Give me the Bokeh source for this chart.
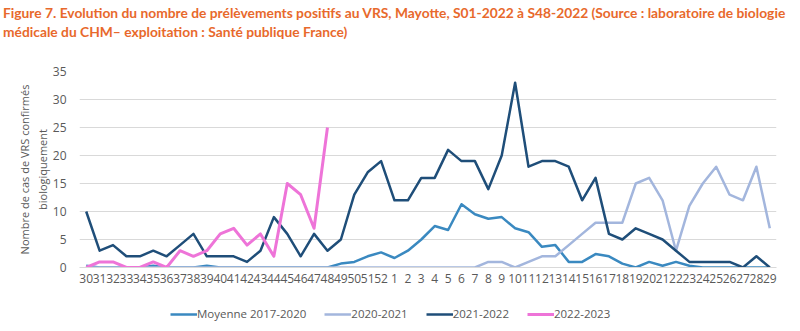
from bokeh.plotting import figure
from bokeh.models import Div, Legend, LegendItem, FixedTicker, ColumnDataSource
from bokeh.layouts import column
from bokeh.embed import file_html
from bokeh.resources import INLINE

weeks = [str(w) for w in range(30, 53)] + [str(w) for w in range(1, 30)]

moyenne_2017_2020 = [0.3, 0, 0, 0, 0, 0.3, 0, 0, 0, 0.3, 0, 0, 0, 0, 0, 0, 0, 0, 0,
                     0.7, 1, 2, 2.7,
                     1.7, 3, 5, 7.4, 6.7, 11.3, 9.5, 8.7, 9, 7, 6.3, 3.7, 4, 1, 1, 2.4, 2,
                     0.7, 0, 1, 0.3, 1, 0.3, 0, 0, 0, 0, 0, 0]
s2020_2021 = [0] * 23 + [0, 0, 0, 0, 0, 0, 0, 1, 1, 0, 1, 2, 2, 4, 6, 8, 8, 8, 15, 16, 12,
                         3, 11, 15, 18, 13, 12, 18, 7]
s2021_2022 = [10, 3, 4, 2, 2, 3, 2, 4, 6, 2, 2, 2, 1, 3, 9, 6, 2, 6, 3, 5, 13, 17, 19,
              12, 12, 16, 16, 21, 19, 19, 14, 20, 33, 18, 19, 19, 18, 12, 16, 6, 5, 7,
              6, 5, 3, 1, 1, 1, 1, 0, 2, 0]
s2022_2023 = [0, 1, 1, 0, 0, 1, 0, 3, 2, 3, 6, 7, 4, 6, 2, 15, 13, 7, 25]

series_names = ["Moyenne 2017-2020", "2020-2021", "2021-2022", "2022-2023"]
colors = ["#3A89C0", "#A3B6DD", "#1F4E79", "#EE74D8"]
y_ticks = [0, 5, 10, 15, 20, 25, 30, 35]

title_lines = ["Figure 7. Evolution du nombre de prélèvements positifs au VRS, Mayotte, "
               "S01-2022 à S48-2022 (Source : laboratoire de biologie",
               "médicale du CHM\u2013 exploitation : Santé publique France)"]

# title block
title_html = ("<div style=\"font-family:'Lato';font-weight:bold;font-size:13.8px;"
              "color:#E8692C;line-height:19px;padding:3px 0 0 3px;margin:0;"
              "white-space:nowrap;\">" + "<br>".join(title_lines) + "</div>")
title_div = Div(text=title_html, width=800, height=44, margin=0)

# main chart
p = figure(width=800, height=252, x_range=weeks, y_range=(0, 35),
           output_backend="svg", toolbar_location=None,
           min_border_left=79, min_border_right=24, min_border_top=27,
           min_border_bottom=29)
p.background_fill_color = "white"
p.border_fill_color = "white"
p.outline_line_color = None

data = [moyenne_2017_2020, s2020_2021, s2021_2022, s2022_2023]
widths = [2.5, 2.5, 2.5, 3]
for name, vals, col, w in zip(series_names, data, colors, widths):
    src = ColumnDataSource(dict(x=weeks[:len(vals)], y=vals))
    p.line("x", "y", source=src, line_color=col, line_width=w, line_join="round")

p.xgrid.grid_line_color = None
p.ygrid.grid_line_color = "#D9D9D9"
p.ygrid.grid_line_width = 1
p.yaxis.ticker = FixedTicker(ticks=y_ticks)
p.yaxis.axis_line_color = None
p.yaxis.major_tick_line_color = None
p.yaxis.minor_tick_line_color = None
p.yaxis.major_label_text_font = "Open Sans"
p.yaxis.major_label_text_font_size = "12px"
p.yaxis.major_label_text_color = "#595959"
p.yaxis.major_label_standoff = 7
p.yaxis.axis_label = "Nombre de cas de VRS confirmés\nbiologiquement"
p.yaxis.axis_label_text_font = "Open Sans"
p.yaxis.axis_label_text_font_style = "normal"
p.yaxis.axis_label_text_font_size = "11px"
p.yaxis.axis_label_text_color = "#595959"
p.yaxis.axis_label_standoff = 0

p.xaxis.axis_line_color = "#D9D9D9"
p.xaxis.major_tick_line_color = None
p.xaxis.minor_tick_line_color = None
p.xaxis.major_label_text_font = "Open Sans"
p.xaxis.major_label_text_font_size = "12px"
p.xaxis.major_label_text_color = "#595959"
p.xaxis.major_label_standoff = 0

# legend strip (its lines lie outside its range; only the legend shows)
pl = figure(width=800, height=35, x_range=(0, 1), y_range=(0, 1),
            output_backend="svg", toolbar_location=None,
            x_axis_type=None, y_axis_type=None,
            min_border_left=0, min_border_right=0, min_border_top=0,
            min_border_bottom=0)
pl.outline_line_color = None
pl.xgrid.visible = False
pl.ygrid.visible = False
items = []
for name, col, w in zip(series_names, colors, widths):
    r = pl.line(x=[-2, -1], y=[-2, -1], line_color=col, line_width=w)
    items.append(LegendItem(label=name, renderers=[r]))
legend = Legend(items=items, orientation="horizontal", location=(91, 10),
                label_text_font="Open Sans", label_text_font_size="11.5px",
                label_text_color="#595959", glyph_width=27, glyph_height=12,
                spacing=18, label_standoff=0, border_line_color=None,
                background_fill_alpha=0, margin=0, padding=2)
pl.add_layout(legend, "center")

layout = column(title_div, p, pl, spacing=0)
with open("out.html", "w", encoding="utf-8") as f:
    f.write(file_html(layout, INLINE))
